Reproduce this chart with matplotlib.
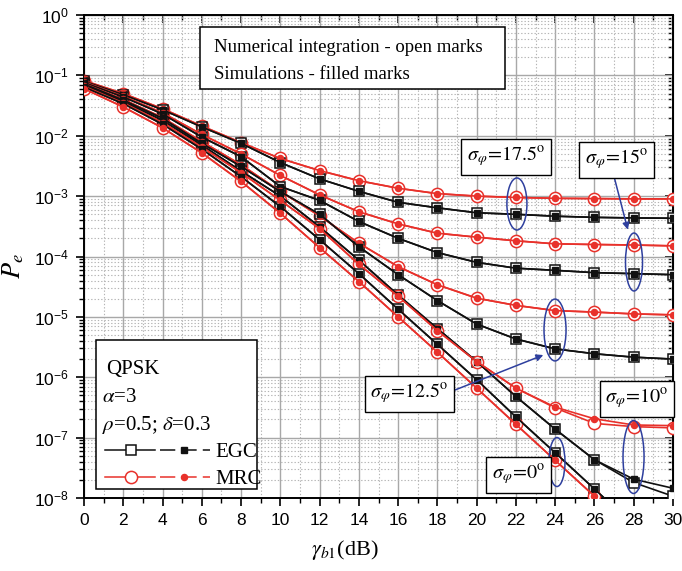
import matplotlib
matplotlib.use("Agg")
import matplotlib.pyplot as plt
from matplotlib.ticker import MultipleLocator, LogLocator, NullFormatter
from matplotlib.patches import Ellipse, Rectangle
from matplotlib.lines import Line2D

plt.rcParams['font.family'] = ['Liberation Sans', 'DejaVu Sans']
plt.rcParams['mathtext.fontset'] = 'stix'

# ---------------- data ----------------
snr_db = [0, 2, 4, 6, 8, 10, 12, 14, 16, 18, 20, 22, 24, 26, 28, 30]

mrc_17_5 = [8.2e-2, 5.0e-2, 2.8e-2, 1.45e-2, 7.7e-3, 4.2e-3, 2.65e-3, 1.8e-3, 1.35e-3, 1.1e-3,
            1.0e-3, 9.5e-4, 9.2e-4, 9.1e-4, 9.0e-4, 9.0e-4]
egc_17_5 = [8.0e-2, 4.8e-2, 2.7e-2, 1.4e-2, 7.5e-3, 3.6e-3, 1.93e-3, 1.2e-3, 7.9e-4, 6.4e-4,
            5.3e-4, 5.0e-4, 4.65e-4, 4.45e-4, 4.35e-4, 4.3e-4]
mrc_15 = [7.8e-2, 4.5e-2, 2.4e-2, 1.05e-2, 5.0e-3, 2.2e-3, 1.05e-3, 5.5e-4, 3.47e-4, 2.43e-4,
          2.09e-4, 1.82e-4, 1.62e-4, 1.58e-4, 1.55e-4, 1.5e-4]
egc_15 = [7.6e-2, 4.4e-2, 2.3e-2, 9.5e-3, 4.5e-3, 1.44e-3, 8.5e-4, 3.8e-4, 2.0e-4, 1.16e-4,
          8.0e-5, 6.4e-5, 5.9e-5, 5.4e-5, 5.2e-5, 5.0e-5]
mrc_12_5 = [7.3e-2, 4.0e-2, 2.0e-2, 8.0e-3, 3.3e-3, 1.2e-3, 4.7e-4, 1.66e-4, 6.8e-5, 3.4e-5,
            2.04e-5, 1.55e-5, 1.27e-5, 1.2e-5, 1.12e-5, 1.08e-5]
egc_12_5 = [7.2e-2, 3.9e-2, 1.95e-2, 7.5e-3, 3.1e-3, 1.19e-3, 5.0e-4, 1.45e-4, 5.0e-5, 1.86e-5,
            7.6e-6, 4.3e-6, 2.95e-6, 2.45e-6, 2.15e-6, 2.0e-6]
egc_10 = [6.9e-2, 3.7e-2, 1.8e-2, 7.0e-3, 2.6e-3, 1.0e-3, 3.1e-4, 8.7e-5, 2.3e-5, 6.4e-6,
          1.82e-6, 4.8e-7, 1.38e-7, 4.3e-8, 1.8e-8, 1.07e-8]
egc_10_sim = [6.9e-2, 3.7e-2, 1.8e-2, 7.0e-3, 2.6e-3, 1.0e-3, 3.1e-4, 8.7e-5, 2.3e-5, 6.4e-6,
              1.82e-6, 4.8e-7, 1.38e-7, 4.3e-8, 2.05e-8, 1.45e-8]
mrc_10 = [6.6e-2, 3.5e-2, 1.65e-2, 6.5e-3, 2.45e-3, 8.5e-4, 2.9e-4, 7.4e-5, 2.2e-5, 5.9e-6,
          1.82e-6, 6.6e-7, 3.1e-7, 1.72e-7, 1.52e-7, 1.45e-7]
mrc_10_sim = [6.6e-2, 3.5e-2, 1.65e-2, 6.5e-3, 2.45e-3, 8.5e-4, 2.9e-4, 7.4e-5, 2.2e-5, 5.9e-6,
              1.82e-6, 6.6e-7, 3.2e-7, 2.05e-7, 1.62e-7, 1.58e-7]
egc_0 = [6.4e-2, 3.4e-2, 1.55e-2, 6.0e-3, 2.1e-3, 6.7e-4, 1.9e-4, 5.2e-5, 1.34e-5, 3.5e-6,
         9.1e-7, 2.2e-7, 5.6e-8, 1.41e-8, 3.5e-9, 9e-10]
mrc_0 = [6.0e-2, 3.0e-2, 1.35e-2, 5.2e-3, 1.75e-3, 5.2e-4, 1.4e-4, 3.85e-5, 1.0e-5, 2.6e-6,
         6.6e-7, 1.66e-7, 4.2e-8, 1.07e-8, 2.7e-9, 7e-10]

x_ticks = [0, 2, 4, 6, 8, 10, 12, 14, 16, 18, 20, 22, 24, 26, 28, 30]

RED = '#e8312b'
BLK = '#111111'
BLUE = '#2e3f9e'

fig = plt.figure(figsize=(6.82, 5.71), dpi=100)
ax = fig.add_axes([84/682, 73/571, 589/682, 483/571])

# numerical (open marks) then simulation (filled marks)
num_curves = [(mrc_17_5, 'mrc'), (egc_17_5, 'egc'), (mrc_15, 'mrc'), (egc_15, 'egc'),
              (mrc_12_5, 'mrc'), (egc_12_5, 'egc'), (egc_10, 'egc'), (mrc_10, 'mrc'),
              (egc_0, 'egc'), (mrc_0, 'mrc')]
sim_curves = [(mrc_17_5, 'mrc'), (egc_17_5, 'egc'), (mrc_15, 'mrc'), (egc_15, 'egc'),
              (mrc_12_5, 'mrc'), (egc_12_5, 'egc'), (egc_10_sim, 'egc'), (mrc_10_sim, 'mrc'),
              (egc_0, 'egc'), (mrc_0, 'mrc')]

for y, kind in num_curves:
    if kind == 'egc':
        ax.plot(snr_db, y, '-', color=BLK, lw=1.2, marker='s', ms=7.4, mfc='white',
                mec=BLK, mew=1.1, zorder=3)
    else:
        ax.plot(snr_db, y, '-', color=RED, lw=1.2, marker='o', ms=8.8, mfc='white',
                mec=RED, mew=1.1, zorder=3)
for y, kind in sim_curves:
    if kind == 'egc':
        ax.plot(snr_db, y, '-', color=BLK, lw=1.2, marker='s', ms=3.8,
                mfc=BLK, mec=BLK, zorder=4)
    else:
        ax.plot(snr_db, y, '-', color=RED, lw=1.2, marker='o', ms=4.4,
                mfc=RED, mec=RED, zorder=4)

ax.set_yscale('log')
ax.set_xlim(0, 30)
ax.set_ylim(1e-8, 1)
ax.set_xticks(x_ticks)
ax.xaxis.set_minor_locator(MultipleLocator(1))
ax.yaxis.set_major_locator(LogLocator(base=10, numticks=20))
ax.yaxis.set_minor_locator(LogLocator(base=10, subs=range(2, 10), numticks=20))
ax.yaxis.set_minor_formatter(NullFormatter())

ax.grid(True, which='major', color='#a8a8a8', lw=1.0, ls='-', zorder=0)
ax.grid(True, which='minor', color='#b4b4b4', lw=0.8, ls=(0, (1.2, 1.8)), zorder=0)
ax.set_axisbelow(True)

ax.tick_params(which='major', direction='out', length=6, width=1.2, labelsize=12.5,
               pad=5)
ax.tick_params(which='minor', direction='out', length=3.5, width=1.0)
for s in ax.spines.values():
    s.set_linewidth(1.4)

secx = ax.secondary_xaxis('top')
secx.set_xticks(x_ticks)
secx.xaxis.set_minor_locator(MultipleLocator(1))
secx.tick_params(which='major', direction='in', length=6, width=1.2, labeltop=False)
secx.tick_params(which='minor', direction='in', length=3.5, width=1.0)
secy = ax.secondary_yaxis('right')
secy.yaxis.set_major_locator(LogLocator(base=10, numticks=20))
secy.yaxis.set_minor_locator(LogLocator(base=10, subs=range(2, 10), numticks=20))
secy.yaxis.set_minor_formatter(NullFormatter())
secy.tick_params(which='major', direction='in', length=6, width=1.2, labelright=False)
secy.tick_params(which='minor', direction='in', length=3.5, width=1.0)

ax.set_ylabel(r'$P_e$', fontsize=19)
ax.yaxis.set_label_coords(-0.098, 0.48)
ax.set_xlabel(r'$\gamma_{b1}$(dB)', fontsize=16, family='Liberation Serif')
ax.xaxis.set_label_coords(0.443, -0.082)

serif = 'Liberation Serif'

# top info box
ax.add_patch(Rectangle((0.197, 0.8468), 0.5178, 0.1284, transform=ax.transAxes,
                       fc='white', ec='black', lw=1.1, zorder=6))
ax.text(0.2207, 0.924, 'Numerical integration - open marks', transform=ax.transAxes,
        family=serif, fontsize=13.5, va='baseline', ha='left', zorder=7)
ax.text(0.2207, 0.8669, 'Simulations - filled marks', transform=ax.transAxes,
        family=serif, fontsize=13.5, va='baseline', ha='left', zorder=7)

# legend box
ax.add_patch(Rectangle((0.0199, 0.0186), 0.273, 0.3085, transform=ax.transAxes,
                       fc='white', ec='black', lw=1.1, zorder=6))
ax.text(0.0374, 0.2567, 'QPSK', transform=ax.transAxes, family=serif, fontsize=15,
        va='baseline', zorder=7)
ax.text(0.030, 0.1994, r'$\alpha$=3', transform=ax.transAxes, family=serif, fontsize=15,
        va='baseline', zorder=7)
ax.text(0.030, 0.1408, r'$\rho$=0.5; $\delta$=0.3', transform=ax.transAxes, family=serif,
        fontsize=15, va='baseline', zorder=7)
ax.text(0.2224, 0.0855, 'EGC', transform=ax.transAxes, family=serif, fontsize=15,
        va='baseline', zorder=7)
ax.text(0.2224, 0.029, 'MRC', transform=ax.transAxes, family=serif, fontsize=15,
        va='baseline', zorder=7)
for yy, col, mk, ms_open, ms_fill in [(0.0994, BLK, 's', 7.4, 3.8), (0.0441, RED, 'o', 8.8, 4.4)]:
    ax.add_line(Line2D([0.0357, 0.1205], [yy, yy], transform=ax.transAxes, color=col, lw=1.1,
                       zorder=7))
    ax.add_line(Line2D([0.0793], [yy], transform=ax.transAxes, color=col, marker=mk,
                       ms=ms_open, mfc='white', mec=col, mew=1.1, zorder=8))
    ax.add_line(Line2D([0.129, 0.214], [yy, yy], transform=ax.transAxes, color=col, lw=1.1,
                       ls=(0, (10, 4)), zorder=7))
    ax.add_line(Line2D([0.1698], [yy], transform=ax.transAxes, color=col, marker=mk,
                       ms=ms_fill, mfc=col, mec=col, zorder=8))

# sigma labels
box = dict(boxstyle='square,pad=0.28', fc='white', ec='black', lw=1.0)
labels = [(0.7165, 0.706, r'$\sigma_{\varphi}\!=\!17.5^{\mathrm{o}}$'),
          (0.904, 0.700, r'$\sigma_{\varphi}\!=\!15^{\mathrm{o}}$'),
          (0.5526, 0.2153, r'$\sigma_{\varphi}\!=\!12.5^{\mathrm{o}}$'),
          (0.939, 0.205, r'$\sigma_{\varphi}\!=\!10^{\mathrm{o}}$'),
          (0.7377, 0.0476, r'$\sigma_{\varphi}\!=\!0^{\mathrm{o}}$')]
for fx, fy, s in labels:
    ax.text(fx, fy, s, transform=ax.transAxes, fontsize=14.5, ha='center', va='center',
            bbox=box, zorder=9)

# ellipses
ells = [(0.735, 0.6087, 0.034, 0.1077), (0.9338, 0.4886, 0.0289, 0.12),
        (0.7997, 0.3478, 0.0374, 0.128), (0.933, 0.0849, 0.0357, 0.151),
        (0.803, 0.0745, 0.0272, 0.1014)]
for cx, cy, w, h in ells:
    ax.add_patch(Ellipse((cx, cy), w, h, transform=ax.transAxes, fill=False, ec=BLUE,
                         lw=1.1, zorder=8))

# arrows
arrow = dict(arrowstyle='-|>', color=BLUE, lw=1.1, mutation_scale=10, shrinkA=0, shrinkB=0)
ax.annotate('', xy=(0.9233, 0.5555), xytext=(0.901, 0.6604), xycoords='axes fraction',
            textcoords='axes fraction', arrowprops=arrow, zorder=8)
ax.annotate('', xy=(0.7798, 0.296), xytext=(0.6214, 0.2195), xycoords='axes fraction',
            textcoords='axes fraction', arrowprops=arrow, zorder=8)

fig.savefig('out.png', dpi=100)
